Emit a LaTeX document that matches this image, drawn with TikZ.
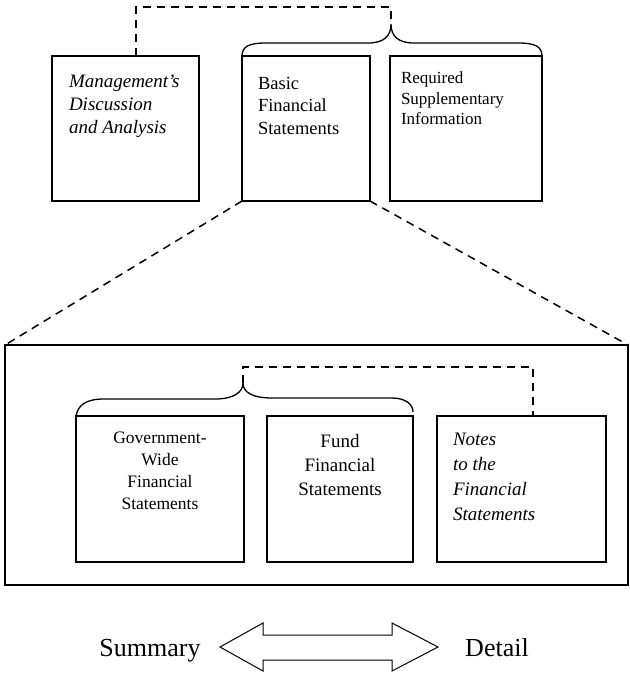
\documentclass[tikz,border=0pt]{standalone}
\usepackage{fontspec}
\setmainfont{Liberation Serif}
\begin{document}
\begin{tikzpicture}[x=1pt,y=-1pt,
  box/.style={draw, line width=1.3pt, inner sep=0pt, outer sep=0pt, anchor=north west},
  dashline/.style={line width=1.5pt, dash pattern=on 8pt off 6pt},
  bracepath/.style={line width=1.3pt},
  lbl/.style={inner sep=0pt, outer sep=0pt}]
\useasboundingbox (0,0) rectangle (630,673);
\fill[white] (0,0) rectangle (630,673);
% top boxes
\node[box, minimum width=147pt, minimum height=145pt] (mda) at (52,56) {};
\node[box, minimum width=128pt, minimum height=145pt] (bfs) at (242,56) {};
\node[box, minimum width=152pt, minimum height=145pt] (rsi) at (390,56) {};
\node[lbl, anchor=north west, align=left, font=\fontsize{19}{23}\selectfont\itshape] (mdat) at (69,75) {Management's\\Discussion\\and Analysis};
\node[lbl, anchor=north west, align=left, font=\fontsize{18.5}{22.5}\selectfont] (bfst) at (258,77) {Basic\\Financial\\Statements};
\node[lbl, anchor=north west, align=left, font=\fontsize{17}{20.5}\selectfont] (rsit) at (401,72) {Required\\Supplementary\\Information};
% top brace
\coordinate (tbt) at (391,24);
\draw[bracepath] (bfs.north west) .. controls (242,46) and (250,43) .. (266,43) -- (368,43)
  .. controls (384,43) and (391,36) .. (tbt) .. controls (391,36) and (398,43) .. (414,43)
  -- (518,43) .. controls (534,43) and (542,46) .. (rsi.north east);
\draw[dashline] (136,56) -- (136,7) -- (391,7) -- (tbt);
% container
\node[box, minimum width=623pt, minimum height=240pt] (cont) at (5,345) {};
\draw[dashline] (bfs.south west) -- (cont.north west);
\draw[dashline] (bfs.south east) -- (cont.north east);
% lower boxes
\node[box, minimum width=168pt, minimum height=146pt] (gw) at (76,416) {};
\node[box, minimum width=146pt, minimum height=146pt] (fund) at (267,416) {};
\node[box, minimum width=169pt, minimum height=146pt] (notes) at (437,416) {};
\node[lbl, anchor=north, align=center, font=\fontsize{17.5}{22}\selectfont] (gwt) at (160,432) {Government-\\Wide\\Financial\\Statements};
\node[lbl, anchor=north, align=center, font=\fontsize{19}{24}\selectfont] (fundt) at (340,434) {Fund\\Financial\\Statements};
\node[lbl, anchor=north west, align=left, font=\fontsize{19}{25}\selectfont\itshape] (notest) at (453,433) {Notes\\to the\\Financial\\Statements};
% lower brace
\coordinate (lbt) at (243,383);
\draw[bracepath] (gw.north west) .. controls (78,405) and (86,399) .. (104,399) -- (215,399)
  .. controls (234,399) and (243,392) .. (lbt) .. controls (243,392) and (252,398) .. (272,398)
  -- (392,398) .. controls (405,398) and (413,404) .. (413,412);
\draw[dashline] (lbt) -- (243,367) -- (533,367) -- (notes.north west -| 533,0);
% arrow
\coordinate (al) at (220,647);
\coordinate (ar) at (438,647);
\draw[line width=1pt, line join=miter] (al) -- (263,623) -- (263,635) -- (392,635) -- (392,623) -- (ar)
  -- (392,671) -- (392,660) -- (263,660) -- (263,671) -- cycle;
\node[lbl, font=\fontsize{26}{30}\selectfont, anchor=base] (sum) at (150,656) {Summary};
\node[lbl, font=\fontsize{26}{30}\selectfont, anchor=base] (det) at (497,656) {Detail};
\end{tikzpicture}
\end{document}
